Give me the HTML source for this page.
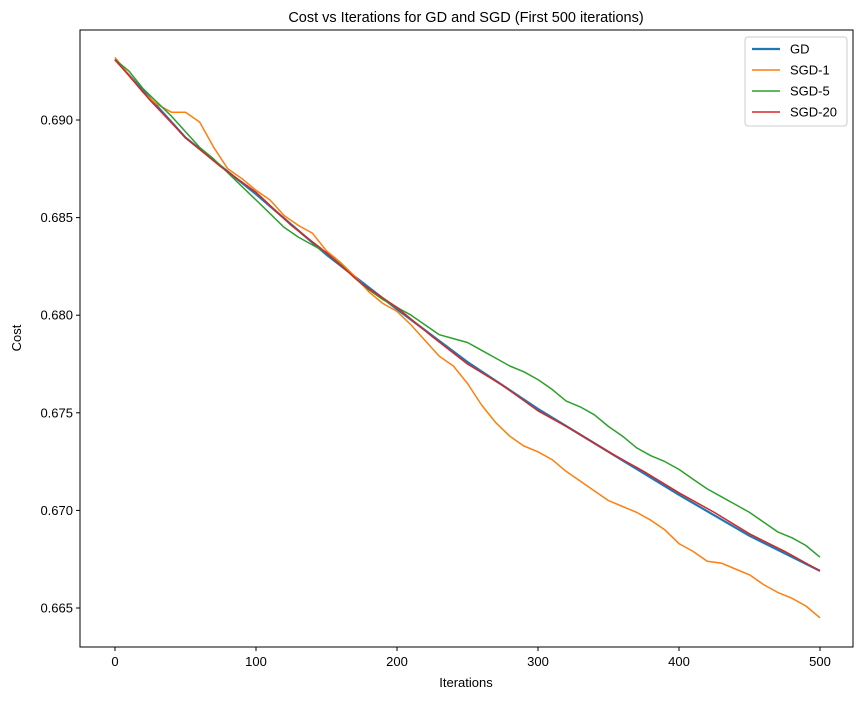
<!DOCTYPE html>
<html><head><meta charset="utf-8"><style>
body{margin:0;background:#fff;font-family:"Liberation Sans","DejaVu Sans",sans-serif;}
svg text{font-family:"Liberation Sans","DejaVu Sans",sans-serif;}
</style></head><body>
<svg id="chart" width="864" height="699">
<rect x="0" y="0" width="864" height="699" fill="#fff"/>
<g id="plot"></g>
</svg>
<script>
const xTicks=[0,100,200,300,400,500];
const yTicks=[0.665,0.670,0.675,0.680,0.685,0.690];
const yTickLabels=["0.665","0.670","0.675","0.680","0.685","0.690"];
const gdIters=[0,50,100,150,200,250,300,350,400,450,500];
const gdCost=[0.6931,0.6891,0.6862,0.6831,0.6803,0.6776,0.6752,0.6730,0.6708,0.6687,0.6669];
const sgd20Iters=[0,25,50,75,100,125,150,175,200,225,250,275,300,325,350,375,400,425,450,475,500];
const sgd20Cost=[0.6931,0.6910,0.6891,0.6876,0.6863,0.6846,0.6832,0.6816,0.6804,0.6789,0.6775,0.6764,0.6751,0.6741,0.6730,0.6720,0.6709,0.6699,0.6688,0.6679,0.6669];
const sgdIters=[0,10,20,30,40,50,60,70,80,90,100,110,120,130,140,150,160,170,180,190,200,210,220,230,240,250,260,270,280,290,300,310,320,330,340,350,360,370,380,390,400,410,420,430,440,450,460,470,480,490,500];
const sgd1Cost=[0.6932,0.6923,0.6914,0.6908,0.6904,0.6904,0.6899,0.6886,0.6875,0.6870,0.6864,0.6859,0.6851,0.6846,0.6842,0.6833,0.6827,0.6820,0.6812,0.6806,0.6802,0.6795,0.6787,0.6779,0.6774,0.6765,0.6754,0.6745,0.6738,0.6733,0.6730,0.6726,0.6720,0.6715,0.6710,0.6705,0.6702,0.6699,0.6695,0.6690,0.6683,0.6679,0.6674,0.6673,0.6670,0.6667,0.6662,0.6658,0.6655,0.6651,0.6645];
const sgd5Cost=[0.6931,0.6925,0.6916,0.6909,0.6902,0.6894,0.6886,0.6880,0.6873,0.6866,0.6859,0.6852,0.6845,0.6840,0.6836,0.6832,0.6826,0.6819,0.6813,0.6808,0.6804,0.6800,0.6795,0.6790,0.6788,0.6786,0.6782,0.6778,0.6774,0.6771,0.6767,0.6762,0.6756,0.6753,0.6749,0.6743,0.6738,0.6732,0.6728,0.6725,0.6721,0.6716,0.6711,0.6707,0.6703,0.6699,0.6694,0.6689,0.6686,0.6682,0.6676];

const L=80,R=853,T=30,B=647;
const xs=v=>115+(v-0)*(820-115)/500;
const ys=v=>120+(0.690-v)*(608-120)/0.025;
const NS="http://www.w3.org/2000/svg";
const g=document.getElementById('plot');
function mk(tag,attrs,parent){const e=document.createElementNS(NS,tag);for(const k in attrs)e.setAttribute(k,attrs[k]);(parent||g).appendChild(e);return e;}

function line(iters,vals,color,w,name){
  const p=mk('polyline',{points:iters.map((x,i)=>xs(x).toFixed(1)+','+ys(vals[i]).toFixed(1)).join(' '),fill:'none',stroke:color,'stroke-width':w,'stroke-linejoin':'round'});
  
  
}
line(gdIters,gdCost,'#1f77b4',2.2,'gd-line');
line(sgdIters,sgd1Cost,'#ff7f0e',1.5,'sgd-1-line');
line(sgdIters,sgd5Cost,'#2ca02c',1.5,'sgd-5-line');
line(sgd20Iters,sgd20Cost,'#d62728',1.5,'sgd-20-line');

const frame=mk('rect',{x:L,y:T,width:R-L,height:B-T,fill:'none',stroke:'#000','stroke-width':1});



xTicks.forEach(v=>{
  mk('line',{x1:xs(v),x2:xs(v),y1:B,y2:B+4,stroke:'#000'});
  const t=mk('text',{x:xs(v),y:B+19,'text-anchor':'middle','font-size':13});
  t.textContent=v;
  
  
});
yTicks.forEach((v,i)=>{
  mk('line',{x1:L-4,x2:L,y1:ys(v),y2:ys(v),stroke:'#000'});
  const t=mk('text',{x:L-7,y:ys(v)+4.5,'text-anchor':'end','font-size':13});
  t.textContent=yTickLabels[i];
  
  
});
</script>
<svg width="864" height="699" style="position:absolute;left:0;top:0">
<text x="466" y="22" text-anchor="middle" font-size="14.5">Cost vs Iterations for GD and SGD (First 500 iterations)</text>
<text x="466" y="687" text-anchor="middle" font-size="13">Iterations</text>
<text x="21" y="338" text-anchor="middle" font-size="13" transform="rotate(-90 21 338)">Cost</text>
<g>
<rect x="745" y="37" width="102" height="89" rx="3" fill="#fff" stroke="#ccc"/>
<line x1="752" y1="49" x2="780" y2="49" stroke="#1f77b4" stroke-width="2.2"/>
<text x="790" y="53.5" font-size="13">GD</text>
<line x1="752" y1="70" x2="780" y2="70" stroke="#ff7f0e" stroke-width="1.5"/>
<text x="790" y="74.5" font-size="13">SGD-1</text>
<line x1="752" y1="91" x2="780" y2="91" stroke="#2ca02c" stroke-width="1.5"/>
<text x="790" y="95.5" font-size="13">SGD-5</text>
<line x1="752" y1="112" x2="780" y2="112" stroke="#d62728" stroke-width="1.5"/>
<text x="790" y="116.5" font-size="13">SGD-20</text>
</g>
</svg>
</body></html>
